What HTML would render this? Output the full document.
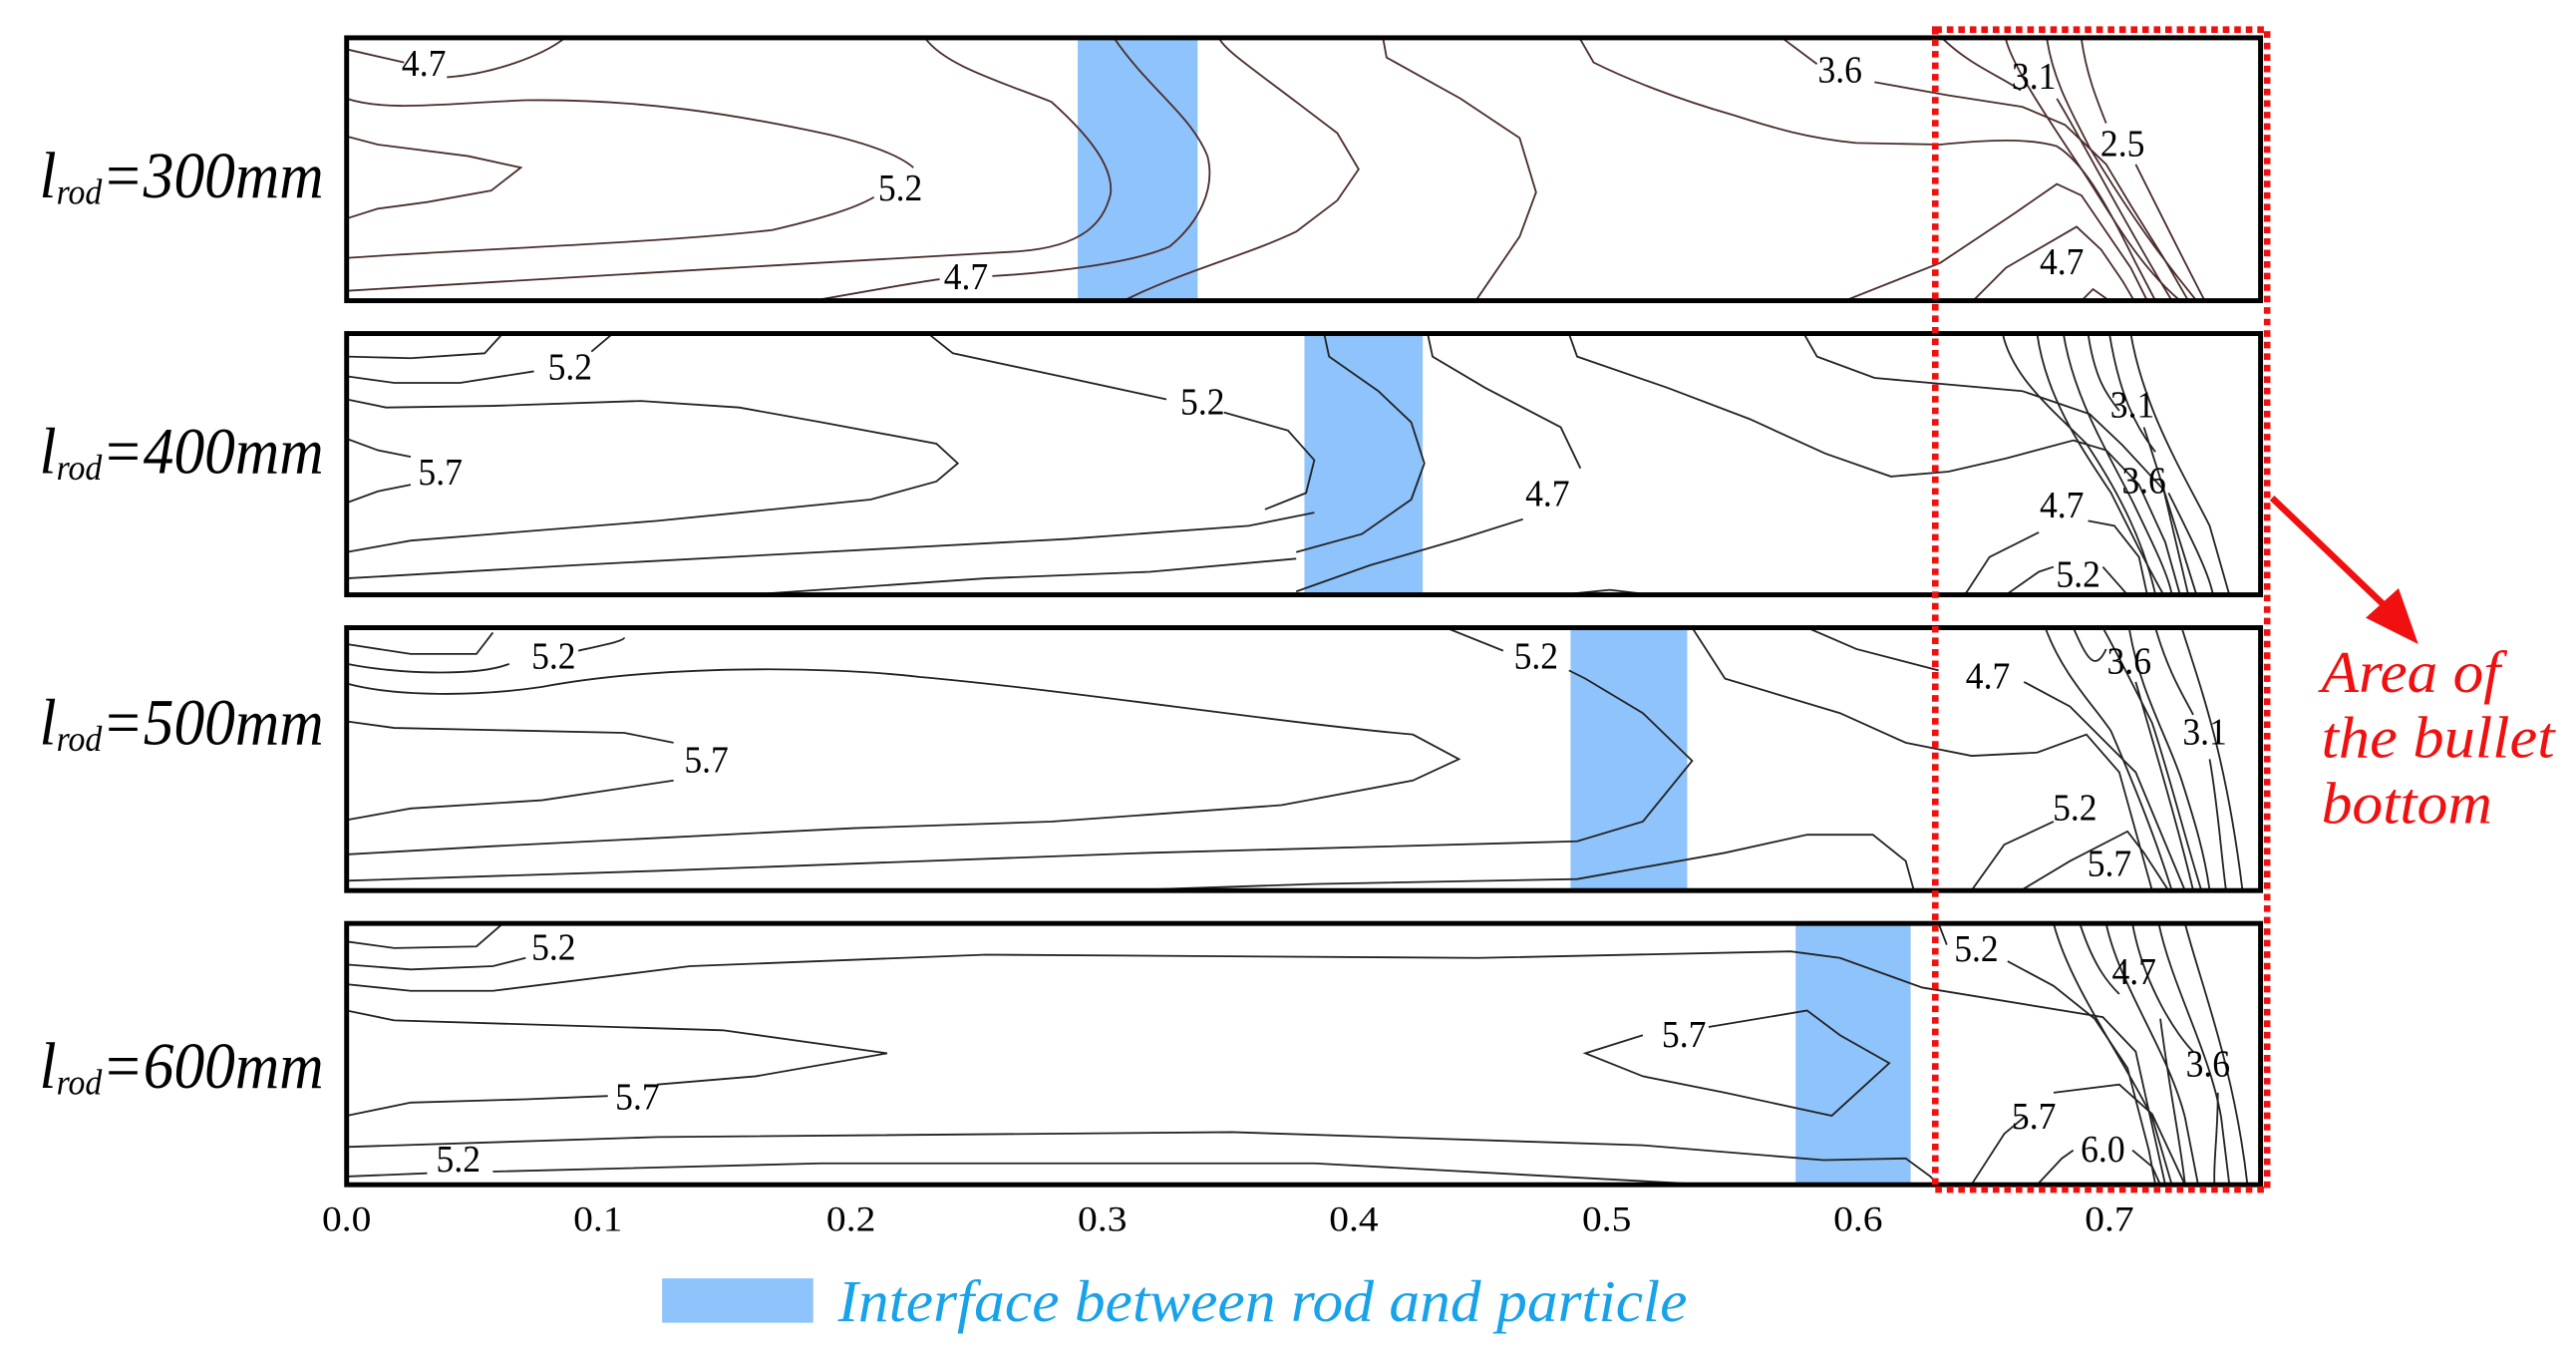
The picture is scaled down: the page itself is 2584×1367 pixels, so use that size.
<!DOCTYPE html>
<html><head><meta charset="utf-8"><style>html,body{margin:0;padding:0;background:#fff}svg{display:block}</style></head>
<body>
<svg width="2584" height="1367" viewBox="0 0 1568 829.5" preserveAspectRatio="none" xmlns="http://www.w3.org/2000/svg">
<rect x="0" y="0" width="1568" height="830" fill="#fff"/>
<g fill="#8ec3fb">
<rect x="656" y="23" width="73" height="160"/>
<rect x="794" y="203" width="72" height="159"/>
<rect x="956" y="382" width="71" height="160"/>
<rect x="1093" y="562" width="70" height="159"/>
</g>
<g fill="none" stroke="#4a2c2c" stroke-width="1.1">
<path d="M211,30 L246,38 M272,47 C300,45 330,34 344,23"/>
<path d="M211,60 C235,68 270,63 320,61 C390,60 450,70 505,82 C530,88 548,95 556,102"/>
<path d="M211,83 L230,88 L285,95 L317,102 L299,116 L260,123 L230,127 L211,133"/>
<path d="M211,157 C280,152 400,148 470,140 C500,133 520,127 532,120"/>
<path d="M563,23 C575,40 610,50 640,62 C660,80 678,100 676,118 C672,135 660,150 620,153 C500,160 320,170 211,177"/>
<path d="M495,183 C540,175 570,170 572,170 M604,168 C640,166 690,160 712,150 C730,135 740,115 735,95 C725,70 700,55 678,23"/>
<path d="M684,183 C720,165 760,155 789,141 L814,122 L827,103 L814,81 L789,62 C760,40 745,30 742,23"/>
<path d="M842,24 L844,35 L889,60 L925,84 L935,117 L925,144 L899,182"/>
<path d="M962,24 L970,38 C990,48 1020,60 1055,70 C1080,78 1100,84 1130,87 L1181,88 C1210,85 1235,84 1252,89 C1270,100 1285,130 1300,160 L1312,183"/>
<path d="M1086,24 L1106,39 M1141,50 L1186,58 L1231,65 L1257,76 L1282,100 L1297,125 L1317,157 L1332,183"/>
<path d="M1183,24 C1200,40 1215,45 1230,55 M1252,60 C1270,90 1290,130 1322,183"/>
<path d="M1221,24 C1225,40 1245,70 1265,100 C1285,130 1300,160 1327,183"/>
<path d="M1246,24 C1250,50 1262,70 1272,90 C1290,120 1310,150 1337,183"/>
<path d="M1267,24 C1270,45 1276,60 1282,75 M1300,100 C1315,130 1330,160 1342,183"/>
<path d="M1123,183 L1181,160 L1226,130 L1252,112 L1267,119 L1282,141 L1297,163 L1307,183"/>
<path d="M1201,183 L1221,163 L1264,138 L1279,152 L1292,171 L1299,183"/>
<path d="M1267,183 L1274,176 L1284,183"/>
</g>
<g fill="none" stroke="#222" stroke-width="1.1">
<path d="M211,217 L250,218 L295,215 L306,203"/>
<path d="M211,229 L240,233 L280,233 L325,226 M360,214 L373,203"/>
<path d="M211,243 L235,248 L300,247 L390,244 L450,248 L500,257 L570,270 L583,282 L570,293 L530,304 L480,309 L400,317 L300,325 L250,329 L211,336"/>
<path d="M211,267 L230,274 L250,278 M250,295 L230,299 L211,306"/>
<path d="M211,352 L350,344 L500,336 L650,328 L760,320 L800,312"/>
<path d="M455,362 L600,352 L700,348 L789,340"/>
<path d="M565,203 L580,215 L650,230 L710,243 M745,251 L784,262 L800,280 L795,300 L770,310"/>
<path d="M806,203 L809,217 L839,238 L859,257 L867,282 L859,304 L829,325 L789,336"/>
<path d="M869,203 L872,217 L904,236 L950,260 L962,285 M927,316 L889,328 L834,344 L789,360"/>
<path d="M955,203 L960,217 L1015,236 L1065,255 L1111,276 L1151,290 L1186,287 L1221,279 L1262,268 L1282,274 L1302,295 L1318,330 L1327,362"/>
<path d="M1098,203 L1106,217 L1141,230 L1231,238 L1272,252 L1292,271 L1317,298 L1332,362"/>
<path d="M1219,203 C1225,230 1250,250 1270,270 C1290,300 1305,330 1312,362"/>
<path d="M1240,203 C1245,240 1265,270 1285,300 C1300,330 1310,350 1317,362"/>
<path d="M1256,203 C1262,240 1280,270 1298,305 C1310,330 1320,350 1322,362"/>
<path d="M1271,203 C1275,230 1282,240 1290,250 M1305,260 C1318,300 1330,340 1337,362"/>
<path d="M1284,203 C1290,240 1300,260 1312,275 M1320,300 C1335,330 1345,350 1347,362"/>
<path d="M1297,203 C1305,250 1330,290 1345,320 L1357,362"/>
<path d="M1196,362 L1211,339 L1241,324 M1271,317 L1287,320 L1302,339 L1307,362"/>
<path d="M1221,362 L1241,348 L1250,345 M1280,345 L1295,362"/>
<path d="M950,362 L980,359 L1005,362"/>
</g>
<g fill="none" stroke="#222" stroke-width="1.1">
<path d="M211,392 L250,398 L290,398 L300,385"/>
<path d="M211,404 C240,410 290,412 310,404 M352,396 C370,392 380,390 380,388"/>
<path d="M211,416 C240,424 290,424 330,418 C400,405 500,405 560,412 C650,420 780,440 860,447 L888,462 L860,475 L780,490 L640,500 L520,504 L300,515 L211,520"/>
<path d="M211,439 L240,443 L380,446 L410,452 M410,475 L330,487 L250,492 L211,499"/>
<path d="M211,536 L400,530 L700,519 L960,512 L1000,500 L1030,463 L1000,434 L965,413 L955,408 M915,396 L880,382"/>
<path d="M680,542 L800,538 L960,535 L1050,519 L1100,508 L1140,508 L1160,524 L1165,542"/>
<path d="M1030,382 L1050,413 L1120,434 L1160,452 L1200,460 L1240,458 L1270,447 L1290,470 L1310,542"/>
<path d="M1100,382 L1130,395 L1180,408 M1232,415 L1260,430 L1300,470 L1330,542"/>
<path d="M1245,382 C1255,410 1275,430 1285,445 C1300,480 1312,510 1322,542"/>
<path d="M1262,382 C1270,400 1275,410 1282,395 M1300,415 C1310,450 1325,500 1335,542"/>
<path d="M1280,382 C1290,400 1300,420 1310,440 C1320,470 1330,510 1340,542"/>
<path d="M1296,382 C1302,420 1320,450 1328,475 C1336,500 1342,520 1345,542"/>
<path d="M1312,382 C1320,410 1330,425 1335,435 M1345,462 C1350,490 1352,520 1355,542"/>
<path d="M1328,382 C1340,420 1355,460 1365,542"/>
<path d="M1200,542 L1220,514 L1250,500"/>
<path d="M1230,542 L1260,524 L1295,506 L1305,519 L1320,542"/>
</g>
<g fill="none" stroke="#222" stroke-width="1.1">
<path d="M211,573 L240,577 L290,576 L305,563"/>
<path d="M211,587 L250,590 L300,588 L320,583"/>
<path d="M211,599 L250,603 L300,603 L420,588 L600,581 L900,583 L1090,579 L1120,583 L1170,601 L1280,619 L1300,640 L1318,721"/>
<path d="M211,615 L240,621 L440,627 L540,641 L460,655 L400,660 M370,667 L320,669 L250,671 L211,679"/>
<path d="M1040,625 L1100,615 L1120,630 L1150,647 L1115,679 L1050,665 L1000,655 L965,641 L1000,630"/>
<path d="M211,698 L400,692 L750,689 L1000,697 L1110,706 L1160,705 L1175,716 L1180,721"/>
<path d="M211,716 L260,714 M300,713 L500,708 L800,708 L1040,721"/>
<path d="M1180,562 L1185,575 M1222,585 L1250,600 L1275,620 L1295,650 L1308,700 L1312,721"/>
<path d="M1250,562 C1260,600 1290,640 1310,680 L1322,721"/>
<path d="M1266,562 C1275,590 1285,600 1290,605 M1315,620 C1320,660 1328,700 1330,721"/>
<path d="M1282,562 C1290,600 1320,640 1330,680 L1338,721"/>
<path d="M1298,562 C1305,600 1325,630 1335,640 M1350,665 C1350,690 1347,710 1348,721"/>
<path d="M1314,562 C1322,600 1345,640 1352,680 L1357,721"/>
<path d="M1330,562 C1340,600 1360,650 1368,721"/>
<path d="M1200,721 L1220,690 L1232,680"/>
<path d="M1240,721 L1255,705 L1262,700 M1298,700 L1310,710 L1315,721"/>
<path d="M1250,665 L1290,660 L1310,678 L1330,721"/>
</g>
<g fill="none" stroke="#000" stroke-width="3">
<rect x="211" y="23" width="1165" height="160"/>
<rect x="211" y="203" width="1165" height="159"/>
<rect x="211" y="382" width="1165" height="160"/>
<rect x="211" y="562" width="1165" height="159"/>
</g>
<g font-family="Liberation Serif, serif" font-size="23" fill="#000" text-anchor="middle">
<text x="258" y="46" textLength="27" lengthAdjust="spacingAndGlyphs">4.7</text><text x="548" y="122" textLength="27" lengthAdjust="spacingAndGlyphs">5.2</text><text x="588" y="176" textLength="27" lengthAdjust="spacingAndGlyphs">4.7</text>
<text x="1120" y="50" textLength="27" lengthAdjust="spacingAndGlyphs">3.6</text><text x="1238" y="54" textLength="27" lengthAdjust="spacingAndGlyphs">3.1</text><text x="1292" y="95" textLength="27" lengthAdjust="spacingAndGlyphs">2.5</text><text x="1255" y="167" textLength="27" lengthAdjust="spacingAndGlyphs">4.7</text>
<text x="347" y="231" textLength="27" lengthAdjust="spacingAndGlyphs">5.2</text><text x="268" y="295" textLength="27" lengthAdjust="spacingAndGlyphs">5.7</text><text x="732" y="252" textLength="27" lengthAdjust="spacingAndGlyphs">5.2</text><text x="942" y="308" textLength="27" lengthAdjust="spacingAndGlyphs">4.7</text>
<text x="1298" y="254" textLength="27" lengthAdjust="spacingAndGlyphs">3.1</text><text x="1305" y="300" textLength="27" lengthAdjust="spacingAndGlyphs">3.6</text><text x="1255" y="315" textLength="27" lengthAdjust="spacingAndGlyphs">4.7</text><text x="1265" y="357" textLength="27" lengthAdjust="spacingAndGlyphs">5.2</text>
<text x="337" y="407" textLength="27" lengthAdjust="spacingAndGlyphs">5.2</text><text x="430" y="470" textLength="27" lengthAdjust="spacingAndGlyphs">5.7</text><text x="935" y="407" textLength="27" lengthAdjust="spacingAndGlyphs">5.2</text><text x="1210" y="419" textLength="27" lengthAdjust="spacingAndGlyphs">4.7</text>
<text x="1296" y="410" textLength="27" lengthAdjust="spacingAndGlyphs">3.6</text><text x="1342" y="453" textLength="27" lengthAdjust="spacingAndGlyphs">3.1</text><text x="1263" y="499" textLength="27" lengthAdjust="spacingAndGlyphs">5.2</text><text x="1284" y="533" textLength="27" lengthAdjust="spacingAndGlyphs">5.7</text>
<text x="337" y="584" textLength="27" lengthAdjust="spacingAndGlyphs">5.2</text><text x="388" y="675" textLength="27" lengthAdjust="spacingAndGlyphs">5.7</text><text x="1025" y="637" textLength="27" lengthAdjust="spacingAndGlyphs">5.7</text><text x="279" y="713" textLength="27" lengthAdjust="spacingAndGlyphs">5.2</text>
<text x="1203" y="585" textLength="27" lengthAdjust="spacingAndGlyphs">5.2</text><text x="1299" y="599" textLength="27" lengthAdjust="spacingAndGlyphs">4.7</text><text x="1344" y="655" textLength="27" lengthAdjust="spacingAndGlyphs">3.6</text><text x="1238" y="687" textLength="27" lengthAdjust="spacingAndGlyphs">5.7</text><text x="1280" y="707" textLength="27" lengthAdjust="spacingAndGlyphs">6.0</text>
</g>
<g font-family="Liberation Serif, serif" font-size="22" fill="#000" text-anchor="middle">
<text x="211" y="749" textLength="30" lengthAdjust="spacingAndGlyphs">0.0</text><text x="364" y="749" textLength="30" lengthAdjust="spacingAndGlyphs">0.1</text><text x="518" y="749" textLength="30" lengthAdjust="spacingAndGlyphs">0.2</text><text x="671" y="749" textLength="30" lengthAdjust="spacingAndGlyphs">0.3</text>
<text x="824" y="749" textLength="30" lengthAdjust="spacingAndGlyphs">0.4</text><text x="978" y="749" textLength="30" lengthAdjust="spacingAndGlyphs">0.5</text><text x="1131" y="749" textLength="30" lengthAdjust="spacingAndGlyphs">0.6</text><text x="1284" y="749" textLength="30" lengthAdjust="spacingAndGlyphs">0.7</text>
</g>
<g font-family="Liberation Serif, serif" font-style="italic" fill="#000">
<text x="24" y="120" font-size="40" textLength="173" lengthAdjust="spacingAndGlyphs">l<tspan font-size="22" dy="4">rod</tspan><tspan dy="-4">=300mm</tspan></text>
<text x="24" y="288" font-size="40" textLength="173" lengthAdjust="spacingAndGlyphs">l<tspan font-size="22" dy="4">rod</tspan><tspan dy="-4">=400mm</tspan></text>
<text x="24" y="453" font-size="40" textLength="173" lengthAdjust="spacingAndGlyphs">l<tspan font-size="22" dy="4">rod</tspan><tspan dy="-4">=500mm</tspan></text>
<text x="24" y="662" font-size="40" textLength="173" lengthAdjust="spacingAndGlyphs">l<tspan font-size="22" dy="4">rod</tspan><tspan dy="-4">=600mm</tspan></text>
</g>
<rect x="1178" y="18" width="202" height="706" fill="none" stroke="#f01010" stroke-width="4" stroke-dasharray="4 3"/>
<line x1="1383" y1="303" x2="1455" y2="372" stroke="#f01010" stroke-width="4"/>
<polygon points="1472,392 1440,376 1460,358" fill="#f01010"/>
<g font-family="Liberation Serif, serif" font-style="italic" font-size="36" fill="#f01010">
<text x="1413" y="421" textLength="109" lengthAdjust="spacingAndGlyphs">Area of</text><text x="1413" y="461" textLength="142" lengthAdjust="spacingAndGlyphs">the bullet</text><text x="1413" y="501" textLength="104" lengthAdjust="spacingAndGlyphs">bottom</text>
</g>
<rect x="403" y="778" width="92" height="27" fill="#8ec3fb"/>
<text x="510" y="804" font-family="Liberation Serif, serif" font-style="italic" font-size="36" fill="#18a2ea" textLength="517" lengthAdjust="spacingAndGlyphs">Interface between rod and particle</text>
</svg>
</body></html>
